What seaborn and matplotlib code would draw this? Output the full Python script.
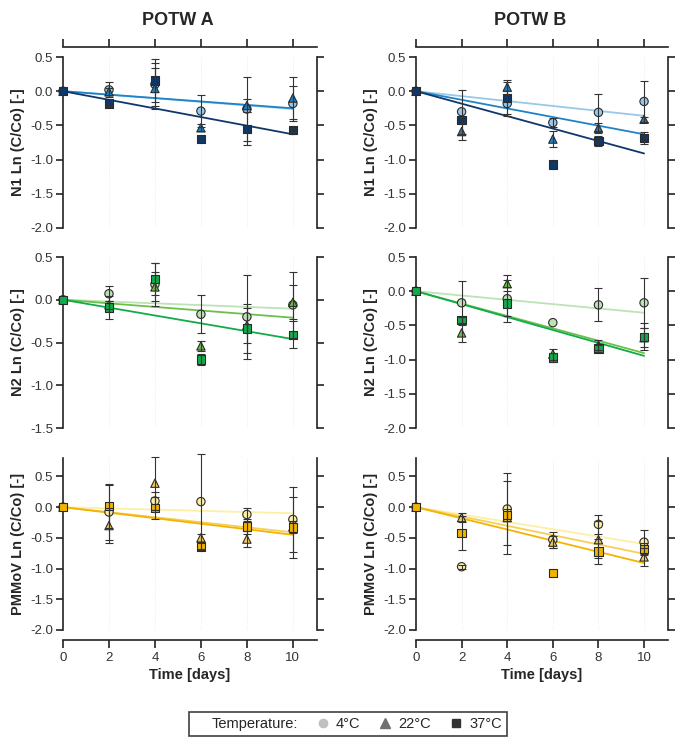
import matplotlib
matplotlib.use("Agg")
import matplotlib.pyplot as plt
import seaborn as sns
import numpy as np
import pandas as pd
from matplotlib.lines import Line2D

# Days sampled and temperature groups
days = [0, 2, 4, 6, 8, 10]
temps = ["4°C", "22°C", "37°C"]
markers = {"4°C": "o", "22°C": "^", "37°C": "s"}

# Ln(C/Co) values per panel, one list per temperature (4, 22, 37 °C)
n1_a = [[0, 0.02, 0.10, -0.29, -0.26, -0.18],
        [0, -0.01, 0.04, -0.535, -0.21, -0.10],
        [0, -0.18, 0.155, -0.70, -0.55, -0.565]]
n1_a_err = [[0, 0.11, 0.31, 0.235, 0.47, 0.25],
            [0, 0.05, 0.30, 0.05, 0.10, 0.31],
            [0, 0.04, 0.31, 0.03, 0.24, 0.03]]
n1_b = [[0, -0.30, -0.18, -0.46, -0.31, -0.15],
        [0, -0.59, 0.06, -0.70, -0.54, -0.41],
        [0, -0.42, -0.10, -1.07, -0.725, -0.68]]
n1_b_err = [[0, 0.32, 0.18, 0.07, 0.27, 0.30],
            [0, 0.12, 0.10, 0.12, 0.07, 0.04],
            [0, 0.04, 0.23, 0.0, 0.07, 0.09]]
n2_a = [[0, 0.07, 0.18, -0.17, -0.20, -0.06],
        [0, -0.06, 0.15, -0.54, -0.30, -0.03],
        [0, -0.09, 0.24, -0.70, -0.335, -0.41]]
n2_a_err = [[0, 0.09, 0.25, 0.22, 0.49, 0.39],
            [0, 0.05, 0.17, 0.06, 0.20, 0.20],
            [0, 0.13, 0.19, 0.06, 0.29, 0.16]]
n2_b = [[0, -0.17, -0.11, -0.46, -0.20, -0.17],
        [0, -0.61, 0.11, -0.92, -0.79, -0.68],
        [0, -0.42, -0.18, -0.97, -0.84, -0.665]]
n2_b_err = [[0, 0.32, 0.34, 0.0, 0.24, 0.37],
            [0, 0.13, 0.05, 0.08, 0.07, 0.14],
            [0, 0.05, 0.18, 0.06, 0.05, 0.20]]
pm_a = [[0, -0.08, 0.10, 0.09, -0.12, -0.20],
        [0, -0.30, 0.39, -0.50, -0.52, -0.32],
        [0, 0.015, -0.01, -0.64, -0.315, -0.33]]
pm_a_err = [[0, 0.46, 0.15, 0.77, 0.10, 0.53],
            [0, 0.29, 0.43, 0.07, 0.13, 0.10],
            [0, 0.35, 0.18, 0.05, 0.12, 0.50]]
pm_b = [[0, -0.97, -0.03, -0.53, -0.28, -0.57],
        [0, -0.17, -0.17, -0.57, -0.53, -0.81],
        [0, -0.42, -0.13, -1.07, -0.72, -0.68]]
pm_b_err = [[0, 0.03, 0.59, 0.13, 0.15, 0.19],
            [0, 0.07, 0.60, 0.10, 0.30, 0.15],
            [0, 0.27, 0.10, 0.0, 0.20, 0.10]]

# fitted first-order decay lines: value at day 0 and day 10
fit_days = [0, 10]
fit_n1_a = [-0.26, -0.25, -0.63]
fit_n1_b = [-0.36, -0.63, -0.91]
fit_n2_a = [-0.105, -0.21, -0.46]
fit_n2_b = [-0.315, -0.905, -0.945]
fit_pm_a = [-0.10, -0.41, -0.45]
fit_pm_b = [-0.60, -0.76, -0.91]

colors = {
    "N1": ["#98c9ea", "#1f83c6", "#0f3769"],
    "N2": ["#bde2b6", "#6cc04a", "#12aa4a"],
    "PMMoV": ["#fdefa6", "#f7cf58", "#f2b400"],
}

panels = [
    ("N1", "A", n1_a, n1_a_err, fit_n1_a, (-2.0, 0.5)),
    ("N1", "B", n1_b, n1_b_err, fit_n1_b, (-2.0, 0.5)),
    ("N2", "A", n2_a, n2_a_err, fit_n2_a, (-1.5, 0.5)),
    ("N2", "B", n2_b, n2_b_err, fit_n2_b, (-2.0, 0.5)),
    ("PMMoV", "A", pm_a, pm_a_err, fit_pm_a, (-2.0, 0.8)),
    ("PMMoV", "B", pm_b, pm_b_err, fit_pm_b, (-2.0, 0.8)),
]

sns.set_style("white")
plt.rcParams["font.family"] = ["Liberation Sans", "DejaVu Sans"]

fig = plt.figure(figsize=(6.87, 7.46), dpi=100)

col_left = [63 / 687, 416 / 687]
col_width = [254 / 687, 252 / 687]
row_bottom = [1 - 228 / 746, 1 - 428 / 746, 1 - 630 / 746]
row_height = [171 / 746, 171 / 746, 172 / 746]

tick_col = "#222222"

for i, (target, plant, vals, errs, fits, ylim) in enumerate(panels):
    r, c = divmod(i, 2)
    ax = fig.add_axes([col_left[c], row_bottom[r], col_width[c], row_height[r]])
    pal = colors[target]

    rows = []
    for t, temp in enumerate(temps):
        for d, v, e in zip(days, vals[t], errs[t]):
            rows.append({"day": d, "value": v, "err": e, "temp": temp})
    df = pd.DataFrame(rows)

    # faint vertical grid
    for d in days[1:]:
        ax.axvline(d, color="#e6e6e6", lw=0.6, ls=":", zorder=0)

    # decay fits
    for t, temp in enumerate(temps):
        sns.lineplot(x=fit_days, y=[0, fits[t]], ax=ax, color=pal[t], lw=1.3, zorder=2)

    sns.scatterplot(data=df, x="day", y="value", hue="temp", style="temp",
                    palette=dict(zip(temps, pal)), markers=markers,
                    s=36, edgecolor="#2a2a2a", linewidth=0.8, legend=False,
                    ax=ax, zorder=3, clip_on=False)

    for t, temp in enumerate(temps):
        sub = df[(df.temp == temp) & (df.err > 0)]
        ax.errorbar(sub.day, sub.value, yerr=sub.err, fmt="none", ecolor="#333333",
                    elinewidth=0.8, capsize=3, capthick=0.8, zorder=4, clip_on=False)

    ax.set_xlim(0, 11.05)
    ax.set_ylim(*ylim)
    ax.set_yticks(np.arange(-2.0, 0.51, 0.5) if ylim[0] < -1.6 else np.arange(-1.5, 0.51, 0.5))
    ax.set_yticklabels([f"{v:.1f}" for v in ax.get_yticks()])
    ax.set_xticks(days)
    ax.set_facecolor("none")

    for s in ax.spines.values():
        s.set_color(tick_col)
        s.set_linewidth(1.2)

    ax.tick_params(axis="y", which="both", left=True, right=True, direction="out",
                   length=5, width=1.2, color=tick_col, labelsize=9.5, labelcolor="#333333",
                   labelright=False, pad=2)

    if r == 0:
        ax.spines["top"].set_position(("outward", 7))
        ax.spines["bottom"].set_visible(False)
        ax.tick_params(axis="x", top=True, bottom=False, labeltop=False, labelbottom=False,
                       direction="out", length=6, width=1.2, color=tick_col)
        ax.set_title(f"POTW {plant}", fontsize=13, fontweight="bold", pad=23,
                     x=5 / 11.05)
    elif r == 1:
        ax.spines["top"].set_visible(False)
        ax.spines["bottom"].set_visible(False)
        ax.tick_params(axis="x", top=False, bottom=False, labelbottom=False)
    else:
        ax.spines["top"].set_visible(False)
        ax.spines["bottom"].set_position(("outward", 7))
        ax.tick_params(axis="x", bottom=True, top=False, direction="out", length=6,
                       width=1.2, color=tick_col, labelsize=9.5, labelcolor="#333333", pad=3)
        ax.set_xlabel("Time [days]", fontsize=10.5, fontweight="bold", labelpad=3)

    if r < 2:
        ax.set_xlabel("")
    ax.set_ylabel(f"{target} Ln (C/Co) [-]", fontsize=10.5, fontweight="bold", labelpad=4)

# legend
handles = [
    Line2D([], [], ls="none", marker=None, label="Temperature:"),
    Line2D([], [], ls="none", marker="o", color="#c0c0c0", markersize=6, label="4°C"),
    Line2D([], [], ls="none", marker="^", color="#707070", markersize=6.5, label="22°C"),
    Line2D([], [], ls="none", marker="s", color="#333333", markersize=6, label="37°C"),
]
leg = fig.legend(handles=handles, loc="center", bbox_to_anchor=(348 / 687, 1 - 724 / 746),
                 ncol=4, frameon=True, fontsize=10.5, handlelength=0.6, handletextpad=0.6,
                 columnspacing=1.4, borderpad=0.35, fancybox=False)
leg.get_frame().set_edgecolor("#111111")
leg.get_frame().set_linewidth(1.2)

plt.savefig("out.png", dpi=100)
